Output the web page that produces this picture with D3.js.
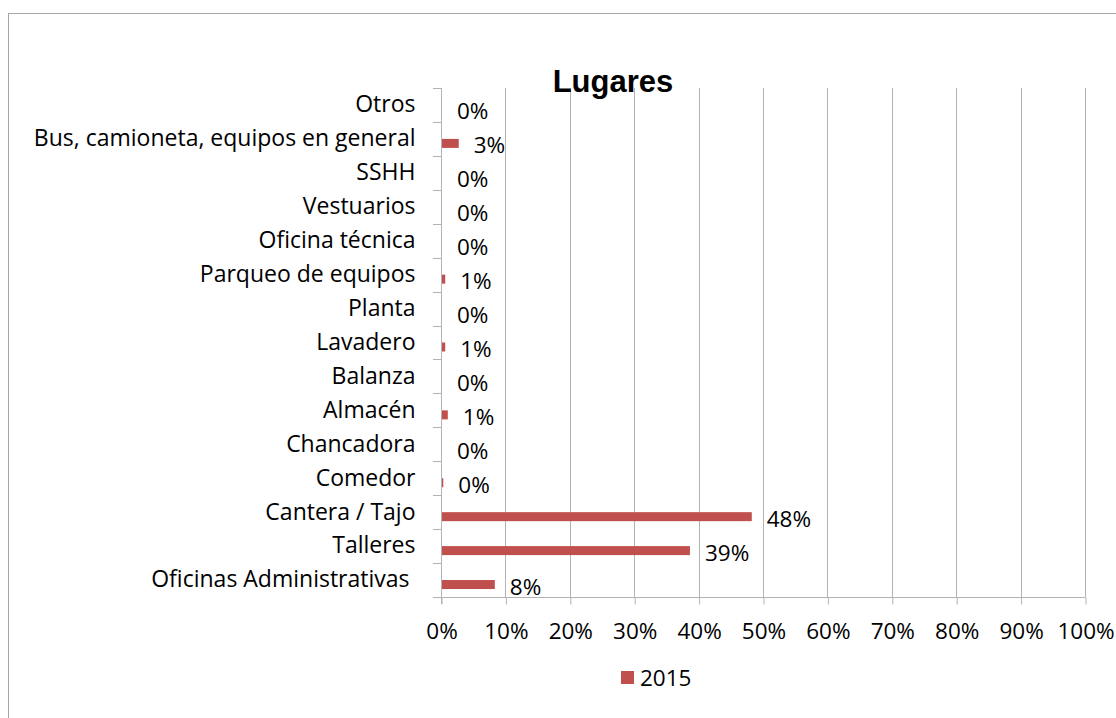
<!DOCTYPE html>
<html><head><meta charset="utf-8">
<script src="https://cdn.jsdelivr.net/npm/d3@7"></script>
<style>
html,body{margin:0;padding:0;background:#fff;}
svg text{font-family:"Open Sans",sans-serif;fill:#000;}
</style></head>
<body><svg id="c" width="1116" height="718"></svg>
<script>
const categories = ["Oficinas Administrativas ", "Talleres", "Cantera / Tajo", "Comedor", "Chancadora", "Almacén", "Balanza", "Lavadero", "Planta", "Parqueo de equipos", "Oficina técnica", "Vestuarios", "SSHH", "Bus, camioneta, equipos en general", "Otros"];
const values2015 = [8.2, 38.5, 48.1, 0.2, 0, 0.9, 0, 0.5, 0, 0.5, 0, 0, 0, 2.6, 0];
const xTicks = [0, 10, 20, 30, 40, 50, 60, 70, 80, 90, 100];
const seriesName = "2015";
const title = "Lugares";

const svg = d3.select("#c");
const color = "#c0504d";
const grid = "#b3b3b3";
const fs = "22.5px";

// outer border
svg.append("rect").attr("x", 8.5).attr("y", 13.5).attr("width", 1130).attr("height", 730)
  .attr("fill", "none").attr("stroke", "#a6a6a6").attr("stroke-width", 1);

const L = 441, R = 1085, T = 88, B = 597;
const x = d3.scaleLinear().domain([0, 100]).range([L, R]);
const y = d3.scaleBand().domain(categories.slice().reverse()).range([T, B]);

// gridlines
svg.append("g").selectAll("line").data(xTicks.filter(d => d > 0)).join("line")
  .attr("x1", d => Math.round(x(d)) + 0.5).attr("x2", d => Math.round(x(d)) + 0.5)
  .attr("y1", T).attr("y2", B).attr("stroke", grid);

// bottom axis
const xAxis = d3.axisBottom(x).tickValues(xTicks).tickFormat(d => d + "%").tickSize(7).tickPadding(19);
const gx = svg.append("g").attr("transform", `translate(0.5,${B + 0.5})`).call(xAxis);
gx.select(".domain").attr("stroke", grid).attr("d", `M${L - 8 - 0.5},0H${R}`);
gx.selectAll(".tick line").attr("stroke", grid);
gx.selectAll(".tick text").style("font-size", fs).style("font-family", "Open Sans");

// left axis
const yAxis = d3.axisLeft(y).tickSize(0).tickPadding(26);
const gy = svg.append("g").attr("transform", `translate(${L + 0.5},0)`).call(yAxis);
gy.select(".domain").attr("stroke", grid).attr("d", `M0,${T}V${B + 7}`);
gy.selectAll(".tick text").style("font-size", "23px").style("font-family", "Open Sans").style("white-space", "pre");
// category boundary ticks
const bounds = categories.map((c) => y(c)).concat([B]);
svg.append("g").selectAll("line").data(bounds).join("line")
  .attr("x1", L - 8).attr("x2", L).attr("y1", d => Math.round(d) + 0.5).attr("y2", d => Math.round(d) + 0.5)
  .attr("stroke", grid);

// bars
const bh = 9, off = 0.5 * y.bandwidth() + 0.5;
svg.append("g").selectAll("rect").data(categories).join("rect")
  .attr("x", L + 1).attr("y", (c) => y(c) + off - bh / 2 + 4)
  .attr("width", (c, i) => Math.max(0, x(values2015[i]) - x(0)))
  .attr("height", bh).attr("fill", color);

// labels
svg.append("g").selectAll("text").data(categories).join("text")
  .attr("x", (c, i) => x(values2015[i]) + 16).attr("y", (c) => y(c) + off + 14)
  .style("font-size", fs)
  .text((c, i) => Math.round(values2015[i]) + "%");

// title
svg.append("text").attr("x", 613).attr("y", 92).attr("text-anchor", "middle")
  .style("font-family", "Liberation Sans, Arial, sans-serif").style("font-weight", "bold").style("font-size", "31px")
  .text(title);

// legend
svg.append("rect").attr("x", 621).attr("y", 671).attr("width", 13).attr("height", 13).attr("fill", color);
svg.append("text").attr("x", 640).attr("y", 686).style("font-size", fs).text(seriesName);
</script></body></html>
